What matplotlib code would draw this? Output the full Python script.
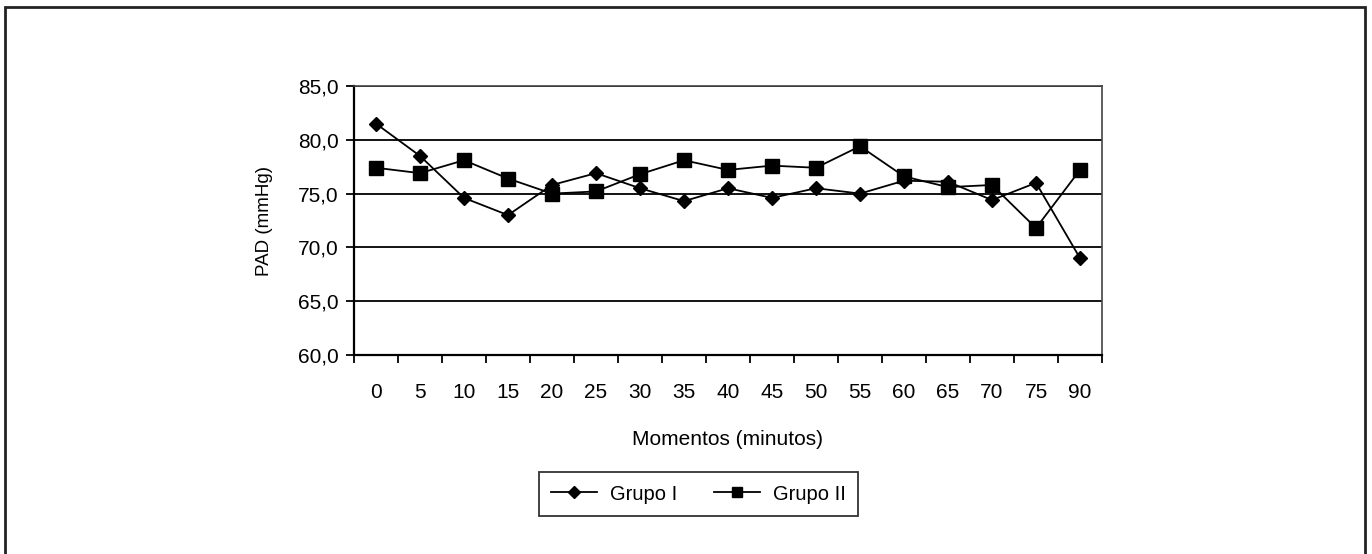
import matplotlib.pyplot as plt
import numpy as np
from matplotlib.lines import Line2D
from matplotlib.patches import Rectangle

plt.rcParams['font.family'] = ['Liberation Sans', 'DejaVu Sans']

momentos = ['0', '5', '10', '15', '20', '25', '30', '35', '40', '45', '50', '55', '60', '65', '70', '75', '90']
grupo_1 = [81.5, 78.5, 74.6, 73.0, 75.8, 76.9, 75.5, 74.3, 75.5, 74.6, 75.5, 75.0, 76.2, 76.1, 74.4, 76.0, 69.0]
grupo_2 = [77.4, 76.9, 78.1, 76.4, 75.0, 75.2, 76.8, 78.1, 77.2, 77.6, 77.4, 79.4, 76.6, 75.6, 75.8, 71.8, 77.2]

fs = 15

fig = plt.figure(figsize=(13.72, 5.54), dpi=100)
ax = fig.add_axes([354/1372, 1-355/554, (1102-354)/1372, (355-86)/554])

# outer frame
fig.patches.append(Rectangle((5/1372, -0.05), 1360/1372, 1.05 - 7/554, transform=fig.transFigure,
                             fill=False, edgecolor='#222222', lw=2))

x = np.arange(len(momentos))
ax.plot(x, grupo_1, color='black', lw=1.3, marker='D', markersize=7, label='Grupo I')
ax.plot(x, grupo_2, color='black', lw=1.3, marker='s', markersize=10, label='Grupo II')

ax.set_xlim(-0.5, len(momentos) - 0.5)
ax.set_ylim(60, 85)
ax.set_yticks(np.arange(60, 86, 5))
ax.set_yticklabels([f'{v:.1f}'.replace('.', ',') for v in np.arange(60, 86, 5)])
ax.yaxis.grid(True, color='black', lw=1.3)
ax.set_axisbelow(True)

ax.set_xticks(x)
ax.set_xticklabels(momentos)
ax.set_xticks(np.arange(-0.5, len(momentos), 1), minor=True)
ax.tick_params(axis='x', which='major', length=0, pad=20, labelsize=fs)
ax.tick_params(axis='x', which='minor', length=6, width=1.3, direction='out')
ax.tick_params(axis='y', length=6, width=1.3, direction='out', labelsize=fs, pad=5)

for side in ['left', 'bottom']:
    ax.spines[side].set_linewidth(1.6)
for side in ['top', 'right']:
    ax.spines[side].set_linewidth(1.2)
    ax.spines[side].set_color('#444444')

ax.set_xlabel('Momentos (minutos)', fontsize=fs, labelpad=20)
ax.set_ylabel('PAD (mmHg)', fontsize=13.5, labelpad=18)

handles = [Line2D([], [], color='black', lw=1.3, marker='D', markersize=6),
           Line2D([], [], color='black', lw=1.3, marker='s', markersize=7)]
leg = fig.legend(handles, ['Grupo I', 'Grupo II'], loc='center left', bbox_to_anchor=(539/1372, 1-494/554),
                 ncol=2, frameon=True, fancybox=False, edgecolor='black', fontsize=fs - 0.5,
                 handlelength=2.3, handletextpad=0.65, columnspacing=1.8, borderpad=0.6,
                 borderaxespad=0)
leg.get_frame().set_linewidth(1.3)

fig.savefig('out.png', dpi=100)
